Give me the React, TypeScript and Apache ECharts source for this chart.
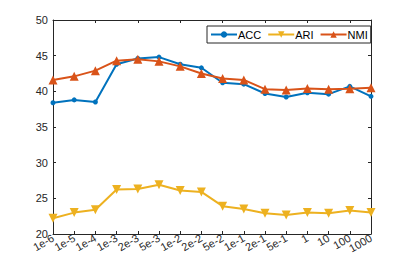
import React, { useEffect, useRef } from "react";
import * as echarts from "echarts";

const categories = ["1e-6", "1e-5", "1e-4", "1e-3", "2e-3", "5e-3", "1e-2", "2e-2", "5e-2", "1e-1", "2e-1", "5e-1", "1", "10", "100", "1000"];
const accValues = [38.4, 38.8, 38.5, 43.8, 44.6, 44.8, 43.8, 43.3, 41.2, 41.0, 39.7, 39.2, 39.8, 39.6, 40.7, 39.3];
const ariValues = [22.2, 23.0, 23.4, 26.25, 26.3, 26.9, 26.1, 25.9, 23.9, 23.5, 22.9, 22.65, 23.0, 22.9, 23.3, 23.0];
const nmiValues = [41.6, 42.1, 42.9, 44.3, 44.5, 44.2, 43.5, 42.5, 41.8, 41.6, 40.3, 40.2, 40.4, 40.3, 40.35, 40.5];
const yMin = 20;
const yMax = 50;
const yStep = 5;

const AXIS = "#262626";
const FONT = "Liberation Sans, Arial, Helvetica, sans-serif";

export default function App() {
  const ref = useRef<HTMLDivElement>(null);
  useEffect(() => {
    if (!ref.current) return;
    const chart = echarts.init(ref.current, undefined, { renderer: "svg" });
    const lineStyleBase = { width: 2 };
    chart.setOption({
      animation: false,
      backgroundColor: "#ffffff",
      textStyle: { fontFamily: FONT },
      grid: { left: 53, right: 38, top: 20, bottom: 33, containLabel: false },
      legend: {
        left: 207,
        top: 26,
        width: 159,
        height: 16,
        padding: [3, 3, 3, 3],
        itemGap: 6,
        itemWidth: 26,
        itemHeight: 8,
        borderColor: AXIS,
        borderWidth: 1,
        backgroundColor: "#ffffff",
        textStyle: { fontFamily: FONT, fontSize: 11, color: "#000000", padding: [0, 0, 0, -4] },
        data: ["ACC", "ARI", "NMI"],
      },
      xAxis: [
        {
          type: "category",
          data: categories,
          boundaryGap: false,
          axisLine: { lineStyle: { color: AXIS, width: 1 } },
          axisTick: { inside: true, length: 3, lineStyle: { color: AXIS } },
          axisLabel: { rotate: 30, interval: 0, fontSize: 11, color: AXIS, fontFamily: FONT, margin: 3 },
          splitLine: { show: false },
        },
        {
          type: "category",
          data: categories,
          boundaryGap: false,
          position: "top",
          axisLine: { lineStyle: { color: AXIS, width: 1 } },
          axisTick: { inside: true, length: 3, lineStyle: { color: AXIS } },
          axisLabel: { show: false },
          splitLine: { show: false },
        },
      ],
      yAxis: [
        {
          type: "value",
          min: yMin,
          max: yMax,
          interval: yStep,
          axisLine: { show: true, lineStyle: { color: AXIS, width: 1 } },
          axisTick: { show: true, inside: true, length: 3, lineStyle: { color: AXIS } },
          axisLabel: { fontSize: 11, color: AXIS, fontFamily: FONT, margin: 5 },
          splitLine: { show: false },
        },
        {
          type: "value",
          min: yMin,
          max: yMax,
          interval: yStep,
          position: "right",
          axisLine: { show: true, lineStyle: { color: AXIS, width: 1 } },
          axisTick: { show: true, inside: true, length: 3, lineStyle: { color: AXIS } },
          axisLabel: { show: false },
          splitLine: { show: false },
        },
      ],
      series: [
        {
          name: "ACC",
          type: "line",
          data: accValues,
          color: "#0072BD",
          symbol: "circle",
          symbolSize: 5,
          lineStyle: lineStyleBase,
          z: 3,
        },
        {
          name: "ARI",
          type: "line",
          data: ariValues,
          color: "#EDB120",
          symbol: "triangle",
          symbolRotate: 180,
          symbolSize: 9,
          lineStyle: lineStyleBase,
          z: 2,
        },
        {
          name: "NMI",
          type: "line",
          data: nmiValues,
          color: "#D95319",
          symbol: "triangle",
          symbolSize: 9,
          lineStyle: lineStyleBase,
          z: 4,
        },
      ],
    });
    return () => chart.dispose();
  }, []);
  return <div ref={ref} style={{ width: 409, height: 267, position: "absolute", left: 0, top: 0 }} />;
}
